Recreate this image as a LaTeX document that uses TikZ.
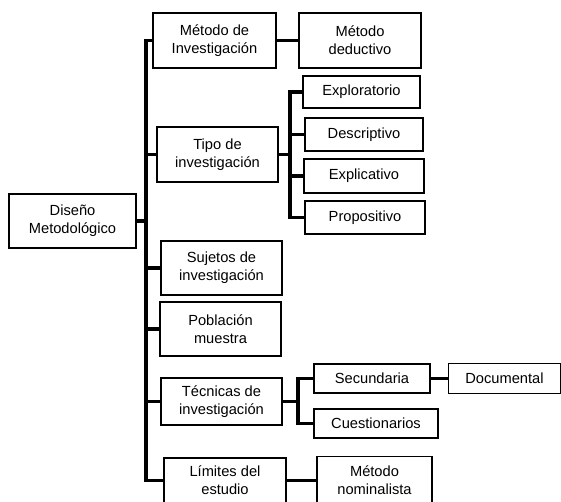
\documentclass[tikz,border=0pt]{standalone}
\usepackage{fontspec}
\setmainfont{Liberation Sans}
\usepackage{tikz}
\usetikzlibrary{positioning}

\begin{document}
\begin{tikzpicture}[x=0.75pt, y=-0.75pt, font=\fontsize{11}{13.5}\selectfont,
    box/.style={draw, line width=0.8pt, fill=white, align=center, inner sep=0pt},
    conn/.style={line width=2.6pt, line join=miter}]
  \useasboundingbox (0,0) rectangle (561,501);

  % root and main branches
  \node[box, minimum width=95.25pt, minimum height=40.5pt] (dis) at (72.5,221) {Diseño\\Metodológico};
  \node[box, minimum width=92.25pt, minimum height=41.25pt] (mi) at (214.5,40.5) {Método de\\Investigación};
  \node[box, minimum width=90.75pt, minimum height=41.25pt] (ti) at (217.5,154.5) {Tipo de\\investigación};
  \node[box, minimum width=90.75pt, minimum height=40.5pt] (suj) at (221.5,268) {Sujetos de\\investigación};
  \node[box, minimum width=90.75pt, minimum height=40.5pt] (pob) at (220.5,329) {Población\\muestra};
  \node[box, minimum width=90.75pt, minimum height=35.25pt] (tec) at (221.5,401.5) {Técnicas de\\investigación};
  \node[box, minimum width=91.5pt, minimum height=33.75pt] (lim) at (225,480.5) {Límites del\\estudio};

  % sub branches
  \node[box, minimum width=91.5pt, minimum height=41.25pt] (md) at (360,40.5) {Método\\deductivo};
  \node[box, minimum width=87.75pt, minimum height=24pt] (exr) at (361.5,92) {Exploratorio};
  \node[box, minimum width=88.5pt, minimum height=24.75pt] (des) at (364,134.5) {Descriptivo};
  \node[box, minimum width=90pt, minimum height=25.5pt] (exp) at (364,176) {Explicativo};
  \node[box, minimum width=90pt, minimum height=24.75pt] (pro) at (365,217.5) {Propositivo};
  \node[box, minimum width=87pt, minimum height=21.75pt] (sec) at (372,378.5) {Secundaria};
  \node[box, minimum width=84pt, minimum height=22.5pt] (doc) at (504.5,378.5) {Documental};
  \node[box, minimum width=93pt, minimum height=21.75pt] (cue) at (376,423.5) {Cuestionarios};
  \node[box, minimum width=86.25pt, minimum height=36pt] (nom) at (374.5,480.5) {Método\\nominalista};

  \coordinate (tk) at (146,0);
  \coordinate (tkti) at (290,0);
  \coordinate (tktec) at (298,0);

  % main trunk
  \draw[conn] (mi.west) -- (mi.west -| tk) |- (lim.west);
  \draw[conn] (dis.east) -- (dis.east -| tk);
  \foreach \n in {ti,suj,pob,tec}
    \draw[conn] (\n.west) -- (\n.west -| tk);

  % tipo de investigacion
  \draw[conn] (exr.west) -- (exr.west -| tkti) |- (pro.west);
  \draw[conn] (ti.east) -- (ti.east -| tkti);
  \foreach \n in {des,exp}
    \draw[conn] (\n.west) -- (\n.west -| tkti);

  % tecnicas
  \draw[conn] (sec.west) -- (sec.west -| tktec) |- (cue.west);
  \draw[conn] (tec.east) -- (tec.east -| tktec);

  \draw[conn] (mi.east) -- (md.west);
  \draw[conn] (sec.east) -- (doc.west);
  \draw[conn] (lim.east) -- (nom.west);
\end{tikzpicture}
\end{document}
